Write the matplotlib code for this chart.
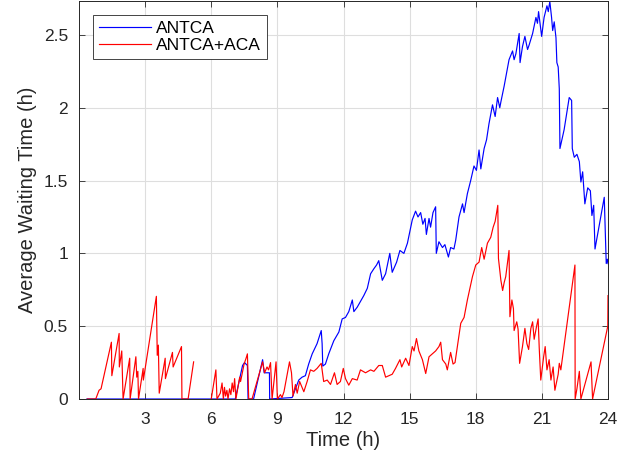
import numpy as np
import matplotlib
matplotlib.use('Agg')
import matplotlib.pyplot as plt

plt.rcParams['font.family'] = ['Liberation Sans', 'DejaVu Sans']

# ANTCA (blue) -- time in hours, average waiting time in hours
antca_t = [0.36, 7.09, 7.42, 7.51, 7.64, 7.67, 7.92, 8.33, 8.40, 8.64, 8.65,
           9.67, 9.82, 9.97, 10.12, 10.27, 10.42, 10.58, 10.80, 10.99, 11.03,
           11.06, 11.18, 11.33, 11.56, 11.79, 11.94, 12.09, 12.24, 12.40, 12.47,
           12.62, 12.77, 12.92, 13.08, 13.23, 13.38, 13.50, 13.60, 13.76, 13.91,
           14.10, 14.21, 14.41, 14.56, 14.74, 14.90, 15.12, 15.27, 15.38, 15.50,
           15.60, 15.70, 15.76, 15.88, 15.95, 16.06, 16.18, 16.21, 16.33, 16.49,
           16.60, 16.76, 16.86, 17.01, 17.09, 17.24, 17.40, 17.47, 17.62, 17.77,
           17.92, 18.03, 18.15, 18.23, 18.38, 18.49, 18.60, 18.76, 18.88, 18.99,
           19.09, 19.14, 19.29, 19.51, 19.67, 19.74, 19.82, 19.97, 20.01, 20.12,
           20.23, 20.35, 20.42, 20.58, 20.73, 20.80, 20.85, 20.99, 21.10, 21.23,
           21.29, 21.36, 21.44, 21.49, 21.56, 21.64, 21.68, 21.74, 21.79, 21.82,
           22.01, 22.17, 22.24, 22.35, 22.38, 22.47, 22.59, 22.70, 22.77, 22.85,
           22.95, 23.08, 23.20, 23.27, 23.35, 23.41, 23.83, 23.86, 23.92, 23.97,
           24.0]
antca_w = [0.0, 0.0, 0.23, 0.25, 0.23, 0.0, 0.0, 0.27, 0.18, 0.18, 0.0,
           0.01, 0.07, 0.13, 0.15, 0.16, 0.24, 0.31, 0.38, 0.47, 0.38,
           0.226, 0.24, 0.31, 0.40, 0.46, 0.55, 0.56, 0.60, 0.68, 0.60,
           0.63, 0.67, 0.71, 0.76, 0.86, 0.895, 0.92, 0.95, 0.815, 0.86,
           1.0, 0.87, 0.94, 1.02, 1.0, 1.07, 1.23, 1.29, 1.25, 1.28,
           1.2, 1.24, 1.13, 1.24, 1.18, 1.28, 1.32, 1.0, 1.08, 1.04,
           1.06, 0.975, 1.04, 1.03, 1.09, 1.25, 1.34, 1.28, 1.41, 1.5,
           1.6, 1.57, 1.71, 1.58, 1.72, 1.78, 1.89, 2.02, 1.94, 2.07,
           2.0, 2.04, 2.15, 2.33, 2.39, 2.33, 2.37, 2.51, 2.31, 2.42,
           2.49, 2.40, 2.43, 2.51, 2.62, 2.58, 2.66, 2.49, 2.62, 2.70,
           2.66, 2.73, 2.62, 2.53, 2.59, 2.48, 2.31, 2.28, 2.13, 1.72,
           1.85, 2.0, 2.07, 2.05, 1.72, 1.66, 1.68, 1.63, 1.49, 1.56,
           1.34, 1.45, 1.43, 1.26, 1.33, 1.03, 1.385, 1.23, 0.93, 0.96,
           0.93]

# ANTCA+ACA (red); NaN marks the period with no data
aca_t = [0.38, 0.76, 0.91, 1.0, 1.47, 1.49, 1.82, 1.83, 1.94, 2.0,
         2.30, 2.32, 2.58, 2.62, 2.67, 2.70, 2.91, 2.92, 3.51, 3.55,
         3.60, 3.64, 3.91, 3.92, 4.24, 4.27, 4.65, 4.67, 4.95, 5.20,
         5.21,
         6.0, 6.21, 6.26, 6.41, 6.49, 6.55, 6.60, 6.65, 6.71, 6.76,
         6.83, 6.89, 6.95, 7.01, 7.06, 7.12, 7.21, 7.29, 7.33, 7.49,
         7.58, 7.64, 7.70, 7.85, 8.33, 8.42, 8.53, 8.60, 8.69, 8.76,
         8.94, 9.0, 9.14, 9.21, 9.30, 9.55, 9.64, 9.71, 9.82, 9.90,
         10.01, 10.20, 10.35, 10.50, 10.65, 10.80, 10.99, 11.10, 11.26, 11.41,
         11.59, 11.71, 11.86, 11.99, 12.09, 12.24, 12.40, 12.62, 12.77, 13.0,
         13.23, 13.38, 13.60, 13.76, 13.91, 14.06, 14.21, 14.36, 14.56, 14.64,
         14.82, 14.97, 15.12, 15.20, 15.31, 15.42, 15.58, 15.73, 15.88, 16.03,
         16.18, 16.33, 16.41, 16.49, 16.64, 16.71, 16.86, 16.97, 17.06, 17.32,
         17.47, 17.62, 17.85, 18.0, 18.15, 18.27, 18.38, 18.53, 18.68, 18.79,
         18.88, 19.0, 19.03, 19.14, 19.22, 19.29, 19.36, 19.51, 19.55, 19.64,
         19.71, 19.74, 19.86, 19.92, 19.99, 20.12, 20.23, 20.32, 20.40, 20.50,
         20.58, 20.65, 20.76, 20.83, 20.88, 20.95, 21.08, 21.15, 21.23, 21.33,
         21.41, 21.51, 21.59, 21.74, 21.79, 21.86, 22.50, 22.51, 22.59, 22.70,
         22.77, 23.23, 23.30, 23.99, 24.0]
aca_w = [0.0, 0.0, 0.06, 0.07, 0.39, 0.16, 0.45, 0.22, 0.33, 0.0,
         0.28, 0.0, 0.29, 0.15, 0.19, 0.0, 0.21, 0.13, 0.705, 0.30,
         0.37, 0.04, 0.28, 0.14, 0.32, 0.22, 0.36, 0.0, 0.0, 0.255,
         np.nan,
         0.0, 0.2, 0.0, 0.04, 0.11, 0.0, 0.08, 0.02, 0.06, 0.0,
         0.07, 0.03, 0.11, 0.05, 0.14, 0.0, 0.08, 0.15, 0.12, 0.24,
         0.28, 0.31, 0.0, 0.0, 0.255, 0.18, 0.22, 0.2, 0.25, 0.0,
         0.255, 0.0, 0.03, 0.01, 0.05, 0.255, 0.18, 0.02, 0.1, 0.04,
         0.12, 0.05, 0.12, 0.2, 0.19, 0.21, 0.245, 0.12, 0.13, 0.10,
         0.18, 0.10, 0.12, 0.21, 0.14, 0.095, 0.14, 0.13, 0.2, 0.18,
         0.20, 0.19, 0.23, 0.23, 0.15, 0.16, 0.17, 0.21, 0.27, 0.22,
         0.28, 0.23, 0.36, 0.33, 0.415, 0.33, 0.27, 0.175, 0.29, 0.31,
         0.33, 0.36, 0.39, 0.27, 0.24, 0.2, 0.32, 0.24, 0.25, 0.52,
         0.56, 0.68, 0.84, 0.92, 0.94, 1.04, 0.96, 1.07, 1.11, 1.18,
         1.22, 1.33, 0.965, 0.815, 0.745, 0.80, 0.84, 1.02, 0.565, 0.68,
         0.62, 0.47, 0.53, 0.48, 0.245, 0.36, 0.485, 0.38, 0.34, 0.485,
         0.53, 0.41, 0.50, 0.55, 0.35, 0.13, 0.29, 0.36, 0.2, 0.27,
         0.13, 0.22, 0.06, 0.17, 0.245, 0.20, 0.92, 0.0, 0.07, 0.19,
         0.0, 0.255, 0.0, 0.5, 0.71]

xticks = [3, 6, 9, 12, 15, 18, 21, 24]
yticks = [0, 0.5, 1, 1.5, 2, 2.5]
ytick_labels = ['0', '0.5', '1', '1.5', '2', '2.5']

fig = plt.figure(figsize=(6.35, 4.62), dpi=100)
ax = fig.add_axes([79 / 635, 1 - 399 / 462, 529 / 635, 398 / 462])

ax.plot(antca_t, antca_w, color=(0, 0, 1), linewidth=0.85, label='ANTCA')
ax.plot(aca_t, aca_w, color=(1, 0, 0), linewidth=0.85, label='ANTCA+ACA')

ax.set_xlim(0, 24)
ax.set_ylim(0, 2.733)
ax.set_xticks(xticks)
ax.set_yticks(yticks)
ax.set_yticklabels(ytick_labels)
ax.tick_params(direction='in', top=True, right=True, length=4, width=0.6,
               colors='0.15', labelsize=12.5)
ax.tick_params(axis='x', pad=9)
ax.tick_params(axis='y', pad=8)
ax.grid(True, color='0.87', linewidth=0.8)
ax.set_axisbelow(True)
for s in ax.spines.values():
    s.set_color('0.15')
    s.set_linewidth(0.7)

ax.set_xlabel('Time (h)', fontsize=14.5, color='0.15', labelpad=3)
ax.set_ylabel('Average Waiting Time (h)', fontsize=14.5, color='0.15', labelpad=5)

leg = ax.legend(loc='upper left', fontsize=12.5, frameon=True, fancybox=False,
                edgecolor='0.15', framealpha=1, borderaxespad=0.8,
                handlelength=3.0, handletextpad=0.3, borderpad=0.35, labelspacing=0.1)
leg.get_frame().set_linewidth(0.6)

fig.savefig('out.png', dpi=100)
